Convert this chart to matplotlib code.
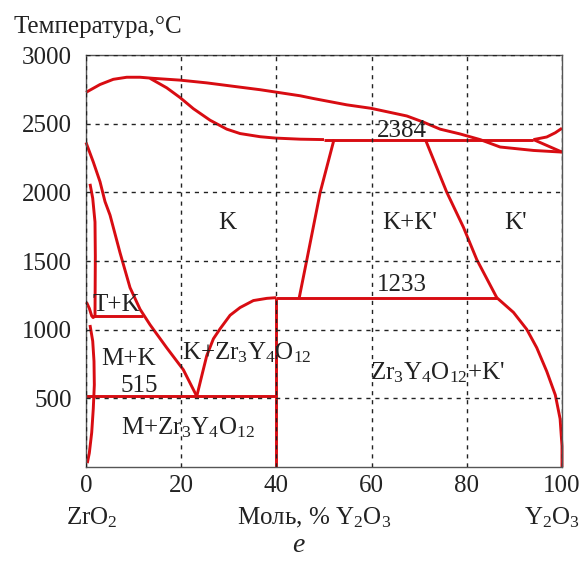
import matplotlib
matplotlib.use("Agg")
import matplotlib.pyplot as plt

plt.rcParams['font.family'] = ['Liberation Serif', 'DejaVu Serif']
plt.rcParams['mathtext.fontset'] = 'custom'
plt.rcParams['mathtext.rm'] = 'Liberation Serif'
plt.rcParams['mathtext.it'] = 'Liberation Serif:italic'
plt.rcParams['mathtext.bf'] = 'Liberation Serif:bold'

# ---------------- data (mol % Y2O3, temperature degC) ----------------
liq_x = [0, 2.94, 5.74, 8.56, 11.35, 14.15, 19.76, 25.37, 30.97, 36.63, 45.0, 47.8,
         54.8, 59.85, 67.4, 70.9, 74.4, 78.6, 82.8, 87.0, 94.0, 100]
liq_T = [2728, 2785, 2823, 2838, 2838, 2830, 2817, 2797, 2772, 2747, 2703, 2683,
         2637, 2612, 2556, 2511, 2460, 2425, 2384, 2330, 2305, 2293]

sol_x = [13.45, 16.96, 19.76, 22.56, 26.07, 29.58, 32.37, 36.58, 39.8, 45.0, 50.0]
sol_T = [2830, 2761, 2690, 2609, 2525, 2460, 2428, 2405, 2395, 2387, 2384]

mono_x = [50.0, 94.0]
mono_T = [2384, 2384]

right_up_x = [94.0, 96.8, 98.6, 100]
right_up_T = [2384, 2403, 2434, 2467]
right_dn_x = [94.0, 100]
right_dn_T = [2384, 2293]

kb_x = [52.1, 49.2, 46.4, 44.8]
kb_T = [2384, 2000, 1510, 1233]

kpb_x = [71.3, 75.8, 79.3, 82.1, 86.3]
kpb_T = [2384, 2000, 1745, 1510, 1233]

line1233_x = [40.0, 86.3]
line1233_T = [1233, 1233]

solv_x = [86.3, 89.8, 92.6, 94.7, 96.8, 98.6, 99.6, 100, 100]
solv_T = [1233, 1126, 1002, 868, 696, 524, 351, 152, 0]

cmp_x = [23.27, 24.32, 25.37, 26.77, 28.18, 30.27, 32.37, 35.17, 37.99, 40.0]
cmp_T = [515, 664, 811, 934, 1007, 1105, 1161, 1212, 1228, 1233]

cmp_v_x = [40.0, 40.0]
cmp_v_T = [0, 1233]

kliq_x = [0, 1.53, 2.94, 3.99, 5.05, 7.15, 9.25, 11.35, 13.45, 16.96, 20.45, 23.27]
kliq_T = [2363, 2221, 2078, 1933, 1834, 1560, 1306, 1149, 1036, 868, 708, 515]

line515_x = [0, 40.0]
line515_T = [515, 515]

line1100_x = [1.5, 12.0]
line1100_T = [1100, 1100]

curveA_x = [0.84, 1.41, 1.89, 1.96, 1.89]
curveA_T = [2062, 1957, 1784, 1535, 1100]

curveB_x = [0.1, 0.7, 1.2, 1.5, 1.9]
curveB_T = [1200, 1155, 1100, 1088, 1100]

curveC_x = [0.84, 1.41, 1.68, 1.75, 1.53, 1.2, 0.7, 0.27]
curveC_T = [1034, 917, 770, 598, 425, 251, 102, 28]

x_ticks = [0, 20, 40, 60, 80, 100]
y_ticks = [500, 1000, 1500, 2000, 2500, 3000]

labels = [
    ("K", 29.6, 1734),
    ("K+K'", 68.1, 1734),
    ("K'", 90.2, 1734),
    ("2384", 66.3, 2400),
    ("1233", 66.3, 1284),
    ("T+K", 6.45, 1137),
    ("M+K", 8.9, 745),
    ("515", 11.15, 549),
    ("K+Zr$_3$Y$_4$O$_{12}$", 33.8, 782),
    ("M+Zr$_3$Y$_4$O$_{12}$", 21.5, 239),
    ("Zr$_3$Y$_4$O$_{12}$+K'", 73.9, 635),
]

# ---------------- figure ----------------
W, H = 584, 564
FS = 18
fig = plt.figure(figsize=(W / 100, H / 100), dpi=100)
ax = fig.add_axes([86 / W, 1 - 467 / H, (562 - 86) / W, (467 - 55) / H])

red = '#d80c12'
lw = 2.1
series = [
    (liq_x, liq_T), (sol_x, sol_T), (mono_x, mono_T), (right_up_x, right_up_T),
    (right_dn_x, right_dn_T), (kb_x, kb_T), (kpb_x, kpb_T), (line1233_x, line1233_T),
    (solv_x, solv_T), (cmp_x, cmp_T), (cmp_v_x, cmp_v_T), (kliq_x, kliq_T),
    (line515_x, line515_T), (line1100_x, line1100_T), (curveA_x, curveA_T),
    (curveB_x, curveB_T), (curveC_x, curveC_T),
]
for xs, ts in series:
    ax.plot(xs, ts, color=red, lw=lw, solid_capstyle='butt', solid_joinstyle='round',
            clip_on=False, zorder=2)

ax.set_xlim(0, 100)
ax.set_ylim(0, 3000)
ax.set_xticks(x_ticks)
ax.set_yticks(y_ticks)
ax.set_xticklabels([str(v) for v in x_ticks])
ax.set_yticklabels([str(v) for v in y_ticks])
ax.tick_params(axis='both', length=0, labelsize=FS, colors='#222222')
ax.tick_params(axis='y', pad=10)
ax.tick_params(axis='x', pad=6)

ax.grid(True, color='#222222', linestyle=(0, (3.0, 3.5)), linewidth=1.0)
ax.set_axisbelow(False)
for gl in ax.get_xgridlines() + ax.get_ygridlines():
    gl.set_zorder(3)

for sp in ax.spines.values():
    sp.set_color('#555555')
    sp.set_linewidth(1.0)

for txt, x, t in labels:
    ax.text(x, t, txt, fontsize=FS, ha='center', va='baseline', color='#222222', zorder=4)

fig.text(13 / W, 1 - 27 / H, "Температура,°C", fontsize=FS, ha='left', va='center',
         color='#222222')
fig.text(92 / W, 1 - 518 / H, "ZrO$_2$", fontsize=FS, ha='center', va='center',
         color='#222222')
fig.text(314 / W, 1 - 518 / H, "Моль, % Y$_2$O$_3$", fontsize=FS, ha='center',
         va='center', color='#222222')
fig.text(552 / W, 1 - 518 / H, "Y$_2$O$_3$", fontsize=FS, ha='center', va='center',
         color='#222222')
fig.text(298 / W, 1 - 545 / H, "e", fontsize=20, style='italic', ha='center',
         va='center', color='#222222')

fig.savefig("out.png", dpi=100)
